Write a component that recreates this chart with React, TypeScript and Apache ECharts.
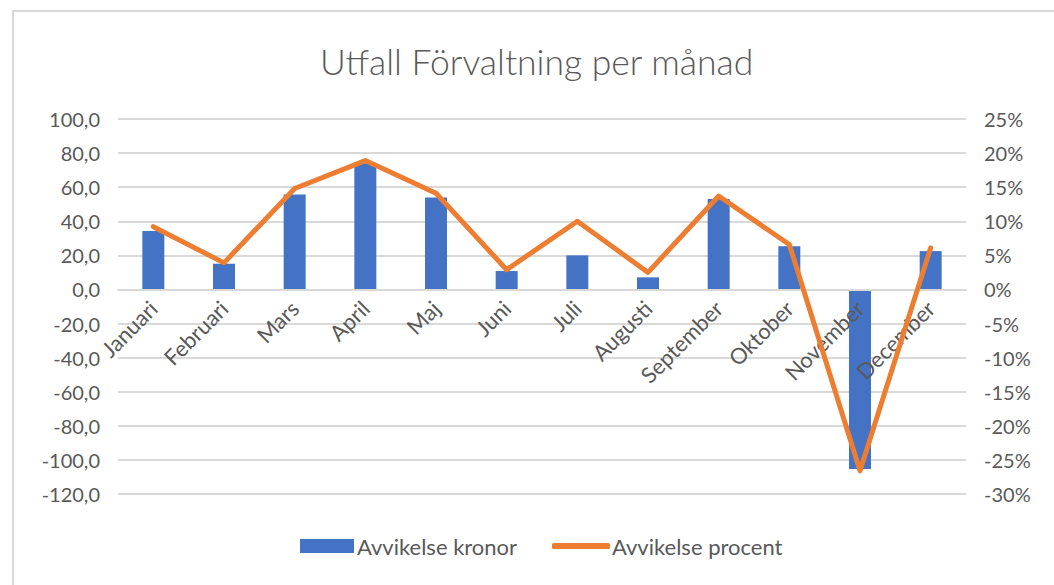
import React, { useEffect, useRef } from "react";
import * as echarts from "echarts";

const months = ["Januari", "Februari", "Mars", "April", "Maj", "Juni", "Juli", "Augusti", "September", "Oktober", "November", "December"];
const kronor = [34.3, 15.1, 55.7, 74.0, 53.9, 10.8, 20.0, 7.1, 53.1, 25.3, -105.3, 22.5];
const procent = [9.2, 3.9, 14.8, 18.9, 14.1, 2.9, 10.0, 2.5, 13.7, 6.6, -26.6, 6.1];
const titleText = "Utfall Förvaltning per månad";
const seriesNames = ["Avvikelse kronor", "Avvikelse procent"];

const FONT = "Lato";
const GREY = "#595959";
const GRID_TOP = 119;
const GRID_BOTTOM = 91;
const H = 585;
const Y_MIN = -120;
const Y_MAX = 100;

export default function App() {
  const ref = useRef<HTMLDivElement>(null);
  useEffect(() => {
    if (!ref.current) return;
    const chart = echarts.init(ref.current, undefined, { renderer: "svg" });
    const plotH = H - GRID_TOP - GRID_BOTTOM;
    const zeroOffset = -(plotH * (0 - Y_MIN)) / (Y_MAX - Y_MIN);
    chart.setOption({
      animation: false,
      backgroundColor: "#ffffff",
      textStyle: { fontFamily: FONT },
      title: {
        text: titleText,
        left: 315,
        top: 38,
        textStyle: { fontFamily: FONT, fontSize: 35.5, fontWeight: 300, color: GREY },
      },
      graphic: [
        {
          type: "rect",
          shape: { x: 13, y: 11, width: 1100, height: 700 },
          style: { fill: "none", stroke: "#d9d9d9", lineWidth: 2 },
          silent: true,
          z: -1,
        },
      ],
      legend: [
        {
          data: [{ name: seriesNames[0], icon: "rect" }],
          left: 295,
          top: 530,
          itemWidth: 54,
          itemHeight: 14,
          textStyle: { fontFamily: FONT, fontSize: 22, color: GREY, padding: [0, 0, 0, -2] },
        },
        {
          data: [{ name: seriesNames[1], icon: "roundRect" }],
          left: 547,
          top: 530,
          itemWidth: 58,
          itemHeight: 6,
          textStyle: { fontFamily: FONT, fontSize: 22, color: GREY, padding: [0, 0, 0, -3] },
        },
      ],
      grid: { left: 118, right: 88, top: GRID_TOP, bottom: GRID_BOTTOM, containLabel: false },
      xAxis: {
        type: "category",
        data: months,
        offset: zeroOffset,
        z: 3,
        axisLine: { onZero: false, lineStyle: { color: "#d9d9d9", width: 2 } },
        axisTick: { show: false },
        axisLabel: { rotate: 45, fontSize: 22, color: GREY, fontFamily: FONT, margin: 15, interval: 0 },
      },
      yAxis: [
        {
          type: "value",
          min: Y_MIN,
          max: Y_MAX,
          interval: 20,
          axisLine: { show: false },
          axisTick: { show: false },
          splitLine: { lineStyle: { color: "#d9d9d9", width: 2 } },
          axisLabel: {
            fontSize: 20,
            color: GREY,
            fontFamily: FONT,
            margin: 18,
            formatter: (v: number) => v.toFixed(1).replace(".", ","),
          },
        },
        {
          type: "value",
          min: -30,
          max: 25,
          interval: 5,
          axisLine: { show: false },
          axisTick: { show: false },
          splitLine: { show: false },
          axisLabel: {
            fontSize: 20,
            color: GREY,
            fontFamily: FONT,
            margin: 18,
            formatter: (v: number) => `${v}%`,
          },
        },
      ],
      series: [
        {
          name: seriesNames[0],
          type: "bar",
          data: kronor,
          yAxisIndex: 0,
          barWidth: 22,
          z: 2,
          itemStyle: { color: "#4472C4" },
        },
        {
          name: seriesNames[1],
          type: "line",
          data: procent,
          yAxisIndex: 1,
          symbol: "none",
          z: 5,
          lineStyle: { color: "#ED7D31", width: 5, cap: "round", join: "round" },
          itemStyle: { color: "#ED7D31" },
        },
      ],
    });
    return () => chart.dispose();
  }, []);
  return <div ref={ref} style={{ position: "fixed", left: 0, top: 0, width: 1054, height: 585 }} />;
}
